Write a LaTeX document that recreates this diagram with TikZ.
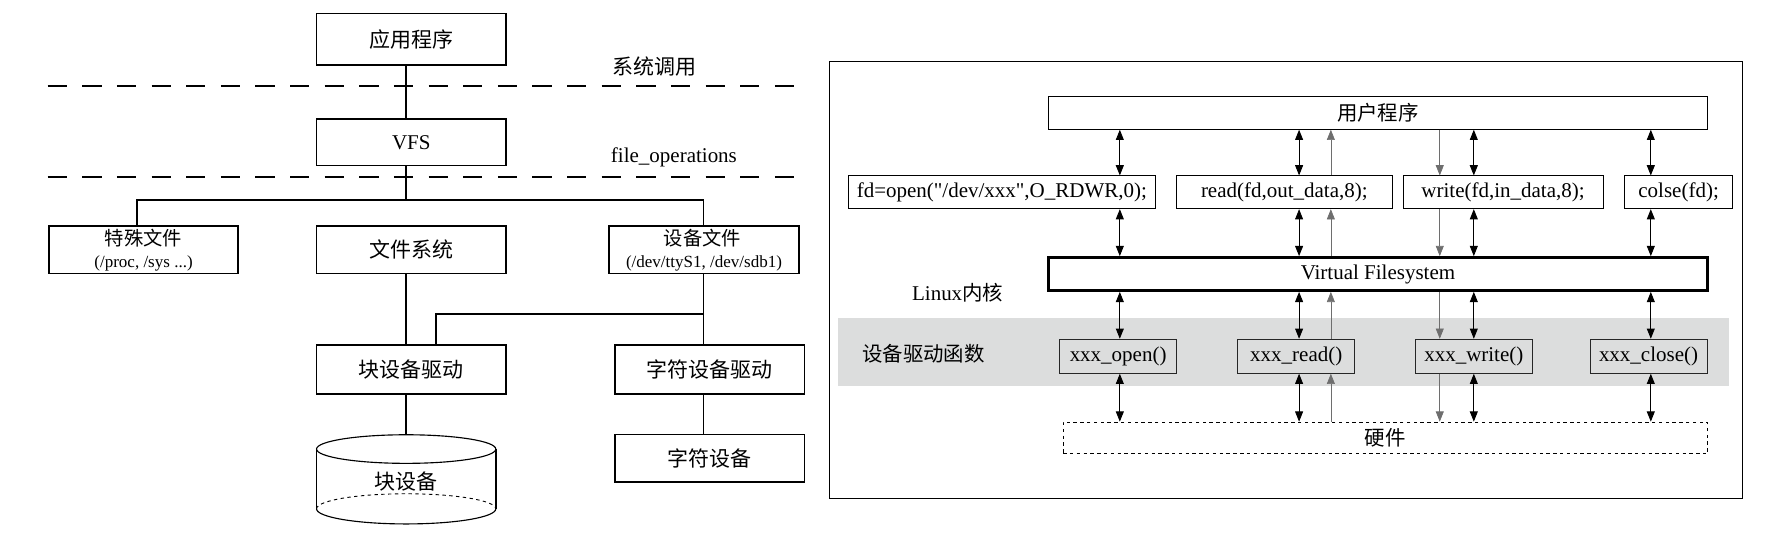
\documentclass[tikz,border=0pt]{standalone}
\usepackage{fontspec}
\setmainfont{Liberation Serif}[Ligatures=TeXOff]
\newfontfamily\cjk{Noto Sans CJK SC}
\usetikzlibrary{arrows.meta}
\newcommand\myfs[1]{\fontsize{#1}{#1}\selectfont}
\definecolor{bandgray}{RGB}{220,221,221}
\definecolor{arrowgray}{RGB}{110,110,110}
\begin{document}
\begin{tikzpicture}[x=1pt,y=-1pt,
  lbox/.style={draw, line width=1.5pt, minimum width=167pt, minimum height=42pt, inner sep=0pt, font=\cjk\myfs{18.5}},
  lline/.style={line width=1.5pt},
  sepline/.style={line width=1.6pt, dash pattern=on 17pt off 13.52pt},
  rbox/.style={draw, line width=0.7pt, minimum height=29pt, inner sep=0pt, font=\myfs{18.5}},
  xbox/.style={draw=black!85, fill=bandgray, line width=0.8pt, minimum width=103pt, minimum height=30pt, inner sep=0pt, font=\myfs{18.5}},
  biarrow/.style={{Triangle[length=9pt,width=7pt]}-{Triangle[length=9pt,width=7pt]}, line width=0.8pt},
  grayarrow/.style={-{Triangle[length=9pt,width=7pt]}, draw=arrowgray, line width=0.6pt},
  lbl/.style={inner sep=0pt}
]
\useasboundingbox (0,0) rectangle (1568,486);

% ---------------- left diagram ----------------
\draw[sepline] (42,76) -- (700,76);
\draw[sepline] (42,156) -- (700,156);
\node[lbl, font=\cjk\myfs{18.5}] (syscall) at (577,59) {系统调用};
\node[lbl, font=\myfs{18.5}] (fops) at (594,139) {file\_operations};

\node[lbox, minimum height=45pt] (app) at (362.5,34.5) {应用程序};
\node[lbox, minimum height=41pt, font=\myfs{18.5}] (vfs) at (362.5,125.5) {VFS};
\node[lbox] (special) at (126.5,220) {};
\node[lbox] (fs) at (362.5,220) {文件系统};
\node[lbox] (devf) at (620.5,220) {};
\node[lbl, font=\cjk\myfs{17}] (specialt) at (126.5,209.5) {特殊文件};
\node[lbl, font=\myfs{15}] (specials) at (126.5,232.5) {(/proc, /sys ...)};
\node[lbl, font=\cjk\myfs{17}] (devft) at (619,209.5) {设备文件};
\node[lbl, font=\myfs{15}] (devfs) at (620.5,232.5) {(/dev/ttyS1, /dev/sdb1)};
\node[lbox, minimum height=43pt] (blkdrv) at (362.5,325.5) {块设备驱动};
\node[lbox, minimum height=43pt] (chrdrv) at (625.5,325.5) {字符设备驱动};
\node[lbox] (chrdev) at (625.5,404) {字符设备};

% cylinder
\coordinate (cyltop) at (358,383.2);
\draw[line width=1pt] (358,395.8) ellipse [x radius=79pt, y radius=12.6pt];
\draw[line width=1.5pt] (279,395.8) -- (279,448.5);
\draw[line width=1.5pt] (437,395.8) -- (437,448.5);
\draw[line width=1pt] (279,448.5) arc[start angle=180, end angle=360, x radius=79pt, y radius=13.3pt];
\draw[line width=0.8pt, dashed] (279,448.5) arc[start angle=180, end angle=0, x radius=79pt, y radius=13.3pt];
\node[lbl, font=\cjk\myfs{18.5}] (blkdev) at (358,424.5) {块设备};

% connectors
\coordinate (bus) at (358,176);
\coordinate (br) at (620,277);
\draw[lline] ([xshift=-4.5pt]app.south) -- ([xshift=-4.5pt]vfs.north);
\draw[lline] ([xshift=-4.5pt]vfs.south) -- (bus);
\draw[lline] ([xshift=-5.5pt]special.north) |- (bus) -| ([xshift=-0.5pt]devf.north);
\draw[lline] ([xshift=-4.5pt]fs.south) -- ([xshift=-4.5pt]blkdrv.north);
\draw[lline] ([xshift=-0.5pt]devf.south) -- ([xshift=-0.5pt]devf.south |- chrdrv.north);
\draw[lline] (br) -| ([xshift=21.5pt]blkdrv.north);
\draw[lline] ([xshift=-0.5pt]devf.south |- chrdrv.south) -- ([xshift=-0.5pt]devf.south |- chrdev.north);
\draw[lline] ([xshift=-4.5pt]blkdrv.south) -- (cyltop);

% ---------------- right diagram ----------------
\fill[bandgray] (739,280) rectangle (1524,340);
\draw[line width=0.8pt] (731,54) rectangle (1536,439);

\node[rbox, minimum width=581pt, font=\cjk\myfs{18}] (user) at (1214.5,99.5) {用户程序};
\node[rbox, minimum width=270pt] (fopen) at (883,169.5) {fd=open(\symbol{34}/dev/xxx\symbol{34},O\_RDWR,0);};
\node[rbox, minimum width=190pt] (fread) at (1132,169.5) {read(fd,out\_data,8);};
\node[rbox, minimum width=176.5pt] (fwrite) at (1324.75,169.5) {write(fd,in\_data,8);};
\node[rbox, minimum width=95pt] (fclose) at (1479.5,169.5) {colse(fd);};
\node[rbox, minimum width=581pt, line width=2.5pt] (vfsr) at (1214.5,241.5) {Virtual Filesystem};
\node[lbl, font=\myfs{18.5}] (linux) at (844,258) {Linux{\cjk\myfs{18}内核}};
\node[lbl, font=\cjk\myfs{18}] (drvfn) at (814,311.5) {设备驱动函数};
\node[xbox] (xopen) at (985.5,314) {xxx\_open()};
\node[xbox] (xread) at (1142.5,314) {xxx\_read()};
\node[xbox] (xwrite) at (1299,314) {xxx\_write()};
\node[xbox] (xclose) at (1453,314) {xxx\_close()};
\node[rbox, dashed, minimum width=568pt, minimum height=28pt, font=\cjk\myfs{18}] (hw) at (1221,386) {硬件};

\coordinate (c1) at (987,0);
\coordinate (c2) at (1145,0);
\coordinate (c2b) at (1173,0);
\coordinate (c3a) at (1269,0);
\coordinate (c3) at (1299,0);
\coordinate (c4) at (1455,0);

% black bidirectional arrows
\draw[biarrow] (c1 |- user.south) -- (c1 |- fopen.north);
\draw[biarrow] (c2 |- user.south) -- (c2 |- fread.north);
\draw[biarrow] (c3 |- user.south) -- (c3 |- fwrite.north);
\draw[biarrow] (c4 |- user.south) -- (c4 |- fclose.north);
\draw[biarrow] (c1 |- fopen.south) -- (c1 |- vfsr.north);
\draw[biarrow] (c2 |- fread.south) -- (c2 |- vfsr.north);
\draw[biarrow] (c3 |- fwrite.south) -- (c3 |- vfsr.north);
\draw[biarrow] (c4 |- fclose.south) -- (c4 |- vfsr.north);
\draw[biarrow] (c1 |- vfsr.south) -- (c1 |- xopen.north);
\draw[biarrow] (c2 |- vfsr.south) -- (c2 |- xread.north);
\draw[biarrow] (c3 |- vfsr.south) -- (c3 |- xwrite.north);
\draw[biarrow] (c4 |- vfsr.south) -- (c4 |- xclose.north);
\draw[biarrow] (c1 |- xopen.south) -- (c1 |- hw.north);
\draw[biarrow] (c2 |- xread.south) -- (c2 |- hw.north);
\draw[biarrow] (c3 |- xwrite.south) -- (c3 |- hw.north);
\draw[biarrow] (c4 |- xclose.south) -- (c4 |- hw.north);

% gray read (upward) arrows
\draw[grayarrow] (c2b |- hw.north) -- (c2b |- xread.south);
\draw[grayarrow] (c2b |- xread.north) -- (c2b |- vfsr.south);
\draw[grayarrow] (c2b |- vfsr.north) -- (c2b |- fread.south);
\draw[grayarrow] (c2b |- fread.north) -- (c2b |- user.south);
% gray write (downward) arrows
\draw[grayarrow] (c3a |- user.south) -- (c3a |- fwrite.north);
\draw[grayarrow] (c3a |- fwrite.south) -- (c3a |- vfsr.north);
\draw[grayarrow] (c3a |- vfsr.south) -- (c3a |- xwrite.north);
\draw[grayarrow] (c3a |- xwrite.south) -- (c3a |- hw.north);
\end{tikzpicture}
\end{document}
